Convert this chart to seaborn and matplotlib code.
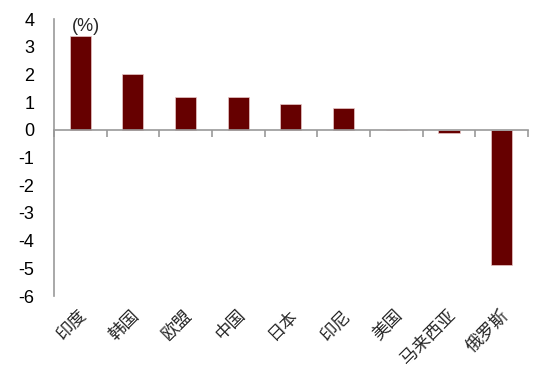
import matplotlib
matplotlib.use("Agg")
import matplotlib.pyplot as plt
import matplotlib.transforms as mtransforms
import seaborn as sns
import pandas as pd
import numpy as np

categories = ["印度", "韩国", "欧盟", "中国", "日本", "印尼", "美国", "马来西亚", "俄罗斯"]
values = [3.4, 2.0, 1.2, 1.18, 0.95, 0.78, 0.0, -0.1, -4.88]
yticks = [4, 3, 2, 1, 0, -1, -2, -3, -4, -5, -6]
unit_label = "(%)"

sns.set_theme(style="white")
plt.rcParams['font.family'] = ['Liberation Sans', 'Noto Sans CJK SC', 'DejaVu Sans']

fig = plt.figure(figsize=(5.5, 3.9), dpi=100)
ax = fig.add_axes([0.098, 0.241, 0.862, 0.710])

df = pd.DataFrame({"cat": categories, "val": values})
sns.barplot(data=df, x="cat", y="val", color="#660000", width=0.4,
            edgecolor="#e8c8c8", linewidth=0.5, saturation=1, ax=ax)

ax.set_xlim(-0.5, len(categories) - 0.5)
ax.set_ylim(-6, 4)
ax.set_yticks(yticks)
ax.set_yticklabels([str(t) for t in yticks], fontsize=13, color="black")
ax.tick_params(axis="y", length=0, pad=14)
ax.set_xlabel("")
ax.set_ylabel("")

for s in ["top", "right"]:
    ax.spines[s].set_visible(False)
ax.spines["left"].set_color("#999999")
ax.spines["left"].set_linewidth(1.2)
ax.spines["bottom"].set_position(("data", 0))
ax.spines["bottom"].set_color("#999999")
ax.spines["bottom"].set_linewidth(1.2)

ax.set_xticks(np.arange(len(categories)))
ax.set_xticklabels([])
ax.tick_params(axis="x", which="major", length=0)
ax.set_xticks(np.arange(len(categories) + 1) - 0.5, minor=True)
ax.tick_params(axis="x", which="minor", length=5, width=1.2, color="#999999", direction="out", bottom=True)

sec = ax.secondary_xaxis(-0.06)
sec.set_xticks(np.arange(len(categories)))
sec.set_xticklabels(categories, rotation=45, ha="right", va="center",
                    rotation_mode="anchor", fontsize=12.5,
                    family=['Noto Sans CJK SC', 'DejaVu Sans'])
sec.tick_params(length=0, pad=0)
sec.spines["bottom"].set_visible(False)
offset = mtransforms.ScaledTranslation(4 / 100, 0, fig.dpi_scale_trans)
for lbl in sec.get_xticklabels():
    lbl.set_transform(lbl.get_transform() + offset)

ax.text(0.1, 3.42, unit_label, ha="center", va="bottom", fontsize=13)

fig.savefig("out.png", dpi=100)
